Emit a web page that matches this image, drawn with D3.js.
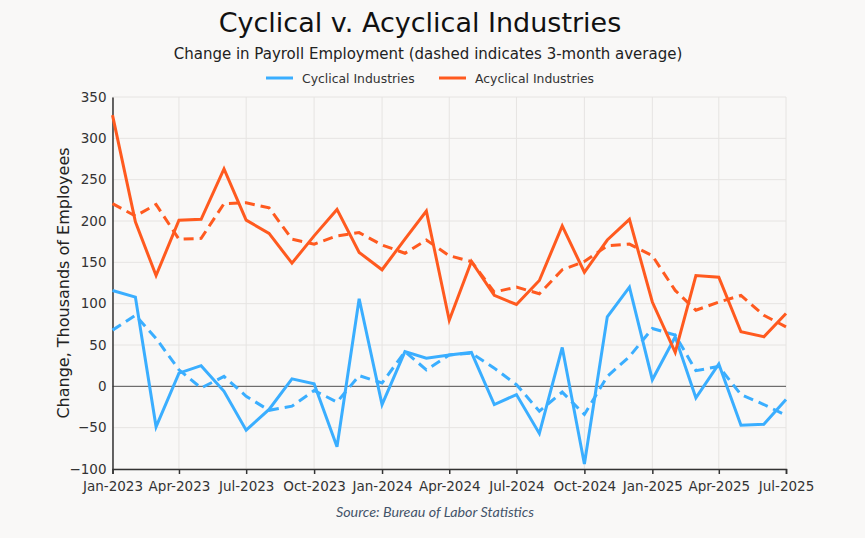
<!DOCTYPE html>
<html>
<head>
<meta charset="utf-8">
<script src="https://cdn.jsdelivr.net/npm/d3@7"></script>
<style>
  html, body { margin: 0; padding: 0; background: #f9f8f7; }
  svg { display: block; font-family: "DejaVu Sans", sans-serif; }
</style>
</head>
<body>
<svg id="chart" width="865" height="538"></svg>
<script>
// monthly points, Jan-2023 .. Jul-2025
const months = d3.timeMonths(new Date(2023, 0, 1), new Date(2025, 6, 2));

const cyclical = [116, 108, -49, 16, 25, -6, -53, -28, 9, 3, -73, 106,
                  -22, 42, 34, 38, 41, -22, -10, -57, 47, -94, 84, 120,
                  8, 60, -14, 27, -47, -46, -16];
const cyclicalAvg = [68, 86, 58, 20, -2, 12, -12, -29, -24, -5, -19, 13,
                     4, 42, 20, 38, 40, 22, 2, -30, -7, -34, 12, 36,
                     70, 62, 19, 24, -10, -22, -35];
const acyclical = [328, 199, 134, 201, 202, 263, 201, 185, 149, 182, 214, 162,
                   141, 178, 212, 80, 151, 110, 99, 128, 194, 138, 177, 202,
                   102, 41, 134, 132, 66, 60, 88];
const acyclicalAvg = [221, 206, 220, 178, 179, 221, 222, 216, 178, 172, 182, 186,
                      171, 161, 177, 158, 151, 114, 120, 112, 141, 151, 170, 172,
                      158, 116, 92, 102, 110, 86, 72];

const yTicks = [-100, -50, 0, 50, 100, 150, 200, 250, 300, 350];

const series = [
  { name: 'Cyclical Industries', color: '#3aaeff', values: cyclical, avg: cyclicalAvg },
  { name: 'Acyclical Industries', color: '#ff5a1f', values: acyclical, avg: acyclicalAvg }
];

const svg = d3.select('#chart');
const m = { top: 97, right: 79, bottom: 69, left: 112.5 };
const W = 865, H = 538;

const x = d3.scaleTime()
  .domain([months[0], months[months.length - 1]])
  .range([m.left, W - m.right]);
const y = d3.scaleLinear()
  .domain([-100, 350])
  .range([H - m.bottom, m.top]);

svg.append('rect').attr('width', W).attr('height', H).attr('fill', '#f9f8f7');

// gridlines
const xTicks = d3.timeMonth.every(3).range(months[0], d3.timeDay.offset(months[months.length - 1], 1));
svg.append('g')
  .selectAll('line')
  .data(xTicks)
  .join('line')
    .attr('x1', d => x(d)).attr('x2', d => x(d))
    .attr('y1', y(350)).attr('y2', y(-100))
    .attr('stroke', '#e6e4e2').attr('stroke-width', 1);
svg.append('g')
  .selectAll('line')
  .data(yTicks)
  .join('line')
    .attr('x1', m.left).attr('x2', W - m.right)
    .attr('y1', d => y(d)).attr('y2', d => y(d))
    .attr('stroke', '#e6e4e2').attr('stroke-width', 1);

// zero line
svg.append('line')
  .attr('x1', m.left).attr('x2', W - m.right)
  .attr('y1', y(0)).attr('y2', y(0))
  .attr('stroke', '#555').attr('stroke-width', 1);

// axes
const xAxis = svg.append('g')
  .attr('transform', `translate(0,${y(-100)})`)
  .call(d3.axisBottom(x).tickValues(xTicks).tickFormat(d3.timeFormat('%b-%Y')).tickSizeOuter(0).tickSize(5));
xAxis.select('.domain').attr('stroke', '#333').attr('stroke-width', 1.5);
xAxis.selectAll('.tick line').attr('stroke', '#333').attr('stroke-width', 1.5);
xAxis.selectAll('text').attr('font-size', 13.5).attr('fill', '#333').attr('dy', '1.05em')
  .attr('font-family', '"DejaVu Sans", sans-serif');

const yAxis = svg.append('g')
  .attr('transform', `translate(${m.left},0)`)
  .call(d3.axisLeft(y).tickValues(yTicks).tickSize(0).tickPadding(6));
yAxis.select('.domain').attr('stroke', '#333').attr('stroke-width', 1.5);
yAxis.selectAll('text').attr('font-size', 13.5).attr('fill', '#333')
  .attr('font-family', '"DejaVu Sans", sans-serif');

// lines
const line = d3.line()
  .x((d, i) => x(months[i]))
  .y(d => y(d));

series.forEach(s => {
  svg.append('path')
    .datum(s.avg)
    .attr('fill', 'none')
    .attr('stroke', s.color)
    .attr('stroke-width', 3)
    .attr('stroke-dasharray', '10,6')
    .attr('d', line);
  svg.append('path')
    .datum(s.values)
    .attr('fill', 'none')
    .attr('stroke', s.color)
    .attr('stroke-width', 3)
    .attr('stroke-linejoin', 'miter')
    .attr('d', line);
});

// titles
svg.append('text')
  .attr('x', 420).attr('y', 32)
  .attr('text-anchor', 'middle')
  .attr('font-size', 27).attr('fill', '#111')
  .text('Cyclical v. Acyclical Industries');
svg.append('text')
  .attr('x', 428).attr('y', 59)
  .attr('text-anchor', 'middle')
  .attr('font-size', 15).attr('fill', '#222')
  .text('Change in Payroll Employment (dashed indicates 3-month average)');

// legend
const legend = svg.append('g');
const legendPos = [266, 439];
series.forEach((s, i) => {
  const g = legend.append('g').attr('transform', `translate(${legendPos[i]},78)`);
  g.append('line').attr('x1', 0).attr('x2', 27).attr('y1', 0).attr('y2', 0)
    .attr('stroke', s.color).attr('stroke-width', 3);
  g.append('text').attr('x', 36).attr('y', 4.5)
    .attr('font-size', 12.4).attr('fill', '#333')
    .text(s.name);
});

// y label
svg.append('text')
  .attr('transform', `translate(69,${(y(350) + y(-100)) / 2}) rotate(-90)`)
  .attr('text-anchor', 'middle')
  .attr('font-size', 16).attr('fill', '#222')
  .text('Change, Thousands of Employees');

// source
svg.append('text')
  .attr('x', 435).attr('y', 517)
  .attr('text-anchor', 'middle')
  .attr('font-family', 'Lato, sans-serif')
  .attr('font-style', 'italic')
  .attr('font-size', 14.3).attr('fill', '#44546a')
  .text('Source: Bureau of Labor Statistics');
</script>
</body>
</html>
